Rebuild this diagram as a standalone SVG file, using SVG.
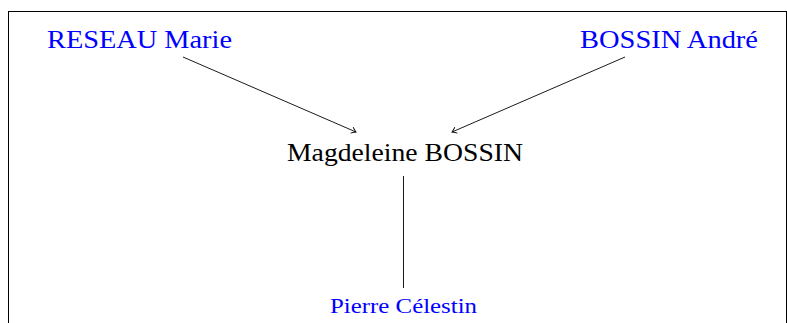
<svg xmlns="http://www.w3.org/2000/svg" width="787" height="323" viewBox="0 0 787 323">
<style>
text { font-family: 'Liberation Serif', 'Times New Roman', serif; text-anchor: middle; }
.blue { fill: #0000ff; }
.big { font-size: 26px; }
.small { font-size: 21px; }
.edge { stroke: #000; stroke-width: 0.9; fill: none; }
</style>
<defs>
<marker id="arr" viewBox="-6 -4 8 8" markerWidth="8" markerHeight="8" refX="0" refY="0" orient="auto" markerUnits="userSpaceOnUse">
<path d="M -4.5 -3.2 Q -1.5 -0.8 0 0 Q -1.5 0.8 -4.5 3.2" stroke="#000" stroke-width="0.9" fill="none"/>
</marker>
</defs>
<rect x="8.5" y="11.5" width="778" height="330" fill="none" stroke="#000" stroke-width="1"/>
<g id="connectors">
<line class="edge" x1="183" y1="57" x2="356" y2="132" marker-end="url(#arr)"/>
<line class="edge" x1="625" y1="57" x2="452" y2="132" marker-end="url(#arr)"/>
<line class="edge" x1="403.5" y1="176" x2="403.5" y2="288"/>
</g>
<g id="reseau-marie"><text class="blue big" x="139.5" y="48" textLength="185" lengthAdjust="spacingAndGlyphs">RESEAU Marie</text></g>
<g id="bossin-andre"><text class="blue big" x="669" y="48" textLength="178" lengthAdjust="spacingAndGlyphs">BOSSIN André</text></g>
<g id="magdeleine-bossin"><text class="big" x="405" y="161" textLength="236" lengthAdjust="spacingAndGlyphs">Magdeleine BOSSIN</text></g>
<g id="pierre-celestin"><text class="blue small" x="403.5" y="313" textLength="147" lengthAdjust="spacingAndGlyphs">Pierre Célestin</text></g>
</svg>
